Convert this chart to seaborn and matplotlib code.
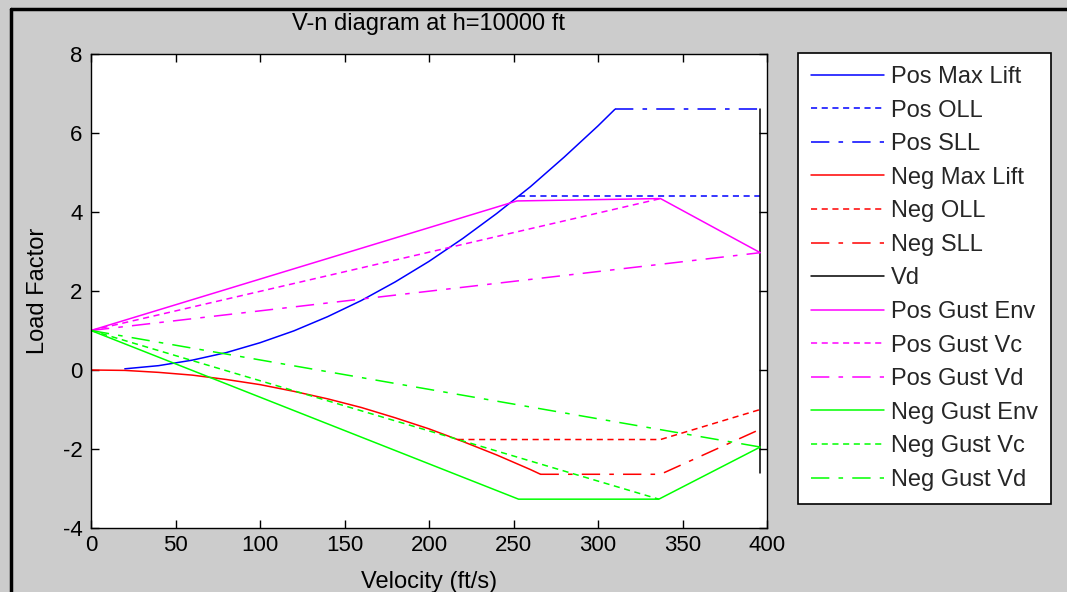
import numpy as np
import pandas as pd
import matplotlib
matplotlib.use("Agg")
import matplotlib.pyplot as plt
from matplotlib.lines import Line2D
import seaborn as sns

# ---------------- data ----------------
pos_lift_v = [20, 40, 60, 80, 100, 120, 140, 160, 180, 200, 220, 240, 260, 280, 300, 310]
pos_lift_n = [0.03, 0.11, 0.25, 0.44, 0.69, 0.99, 1.35, 1.76, 2.23, 2.75, 3.33, 3.96, 4.64, 5.39, 6.18, 6.6]

pos_oll_v = [253, 396]
pos_oll_n = [4.4, 4.4]

pos_sll_v = [310, 396]
pos_sll_n = [6.6, 6.6]

neg_lift_v = [0, 20, 40, 60, 80, 100, 120, 140, 160, 180, 200, 220, 240, 260, 266]
neg_lift_n = [0.0, -0.01, -0.06, -0.13, -0.24, -0.37, -0.54, -0.73, -0.95, -1.21, -1.49, -1.81, -2.15, -2.52, -2.64]

neg_oll_v = [217, 337, 396]
neg_oll_n = [-1.76, -1.76, -1.0]

neg_sll_v = [266, 337, 396]
neg_sll_n = [-2.64, -2.64, -1.5]

vd_v = [396, 396]
vd_n = [-2.6, 6.6]

pos_gust_env_v = [0, 252, 337, 396]
pos_gust_env_n = [1.0, 4.28, 4.34, 2.97]

pos_gust_vc_v = [0, 337]
pos_gust_vc_n = [1.0, 4.34]

pos_gust_vd_v = [0, 396]
pos_gust_vd_n = [1.0, 2.97]

neg_gust_env_v = [0, 253, 336, 396]
neg_gust_env_n = [1.0, -3.27, -3.27, -1.95]

neg_gust_vc_v = [0, 336]
neg_gust_vc_n = [1.0, -3.27]

neg_gust_vd_v = [0, 396]
neg_gust_vd_n = [1.0, -1.95]

x_ticks = [0, 50, 100, 150, 200, 250, 300, 350, 400]
y_ticks = [-4, -2, 0, 2, 4, 6, 8]

title_text = "V-n diagram at h=10000 ft"
x_label = "Velocity (ft/s)"
y_label = "Load Factor"

# ---------------- style ----------------
sns.set_theme(style="white")
plt.rcParams["font.family"] = ["Liberation Sans", "DejaVu Sans"]
plt.rcParams["axes.unicode_minus"] = False

BG = "#cccccc"
fig = plt.figure(figsize=(10.67, 5.92), dpi=100, facecolor=BG, edgecolor=BG,
                 linewidth=0)
fig.patch.set_linewidth(0)
ax = fig.add_axes([91 / 1067, 64 / 592, 676 / 1067, 474 / 592])
ax.set_facecolor("white")

SOLID = "-"
DOT = (0, (4, 3))
DASHDOT = (0, (12, 6, 3, 6))
LW = 1.1

series = [
    ("Pos Max Lift", pos_lift_v, pos_lift_n, "#0000ff", SOLID),
    ("Pos OLL", pos_oll_v, pos_oll_n, "#0000ff", DOT),
    ("Pos SLL", pos_sll_v, pos_sll_n, "#0000ff", DASHDOT),
    ("Neg Max Lift", neg_lift_v, neg_lift_n, "#ff0000", SOLID),
    ("Neg OLL", neg_oll_v, neg_oll_n, "#ff0000", DOT),
    ("Neg SLL", neg_sll_v, neg_sll_n, "#ff0000", DASHDOT),
    ("Vd", vd_v, vd_n, "#000000", SOLID),
    ("Pos Gust Env", pos_gust_env_v, pos_gust_env_n, "#ff00ff", SOLID),
    ("Pos Gust Vc", pos_gust_vc_v, pos_gust_vc_n, "#ff00ff", DOT),
    ("Pos Gust Vd", pos_gust_vd_v, pos_gust_vd_n, "#ff00ff", DASHDOT),
    ("Neg Gust Env", neg_gust_env_v, neg_gust_env_n, "#00ff00", SOLID),
    ("Neg Gust Vc", neg_gust_vc_v, neg_gust_vc_n, "#00ff00", DOT),
    ("Neg Gust Vd", neg_gust_vd_v, neg_gust_vd_n, "#00ff00", DASHDOT),
]

for name, vv, nn, col, ls in series:
    df = pd.DataFrame({"V": vv, "n": nn})
    sns.lineplot(data=df, x="V", y="n", ax=ax, color=col, linestyle=ls,
                 linewidth=LW, sort=False, estimator=None, label=name)

ax.set_xlim(0, 400)
ax.set_ylim(-4, 8)
ax.set_xticks(x_ticks)
ax.set_yticks(y_ticks)
ax.tick_params(axis="both", which="both", direction="in", length=6, width=1,
               colors="black", labelsize=16, top=True, right=True,
               bottom=True, left=True)
ax.tick_params(axis="x", pad=5)
ax.tick_params(axis="y", pad=6)
for s in ax.spines.values():
    s.set_visible(True)
    s.set_color("black")
    s.set_linewidth(1.0)

ax.set_title(title_text, fontsize=17, pad=17, color="black")
ax.set_xlabel(x_label, fontsize=17, labelpad=11, color="black")
ax.set_ylabel(y_label, fontsize=17, labelpad=10, color="black")

handles, labels = ax.get_legend_handles_labels()
ax.get_legend().remove()
leg = fig.legend(handles, labels, loc="upper left",
                 bbox_to_anchor=(798 / 1067, 1 - 53 / 592),
                 bbox_transform=fig.transFigure,
                 fontsize=17, frameon=True, fancybox=False, shadow=False,
                 borderpad=0.55, labelspacing=0.49, handlelength=3.1,
                 handletextpad=0.3, borderaxespad=0)
leg.get_frame().set_edgecolor("black")
leg.get_frame().set_linewidth(1.2)
leg.get_frame().set_facecolor("white")
leg.get_frame().set_alpha(1)

# screenshot frame lines (top and left)
fig.add_artist(Line2D([11 / 1067, 1.0], [1 - 9 / 592, 1 - 9 / 592],
                      transform=fig.transFigure, color="black", linewidth=2.5))
fig.add_artist(Line2D([11 / 1067, 11 / 1067], [0, 1 - 9 / 592],
                      transform=fig.transFigure, color="black", linewidth=2.5))

fig.savefig("out.png", dpi=100, facecolor=BG, edgecolor=BG)
